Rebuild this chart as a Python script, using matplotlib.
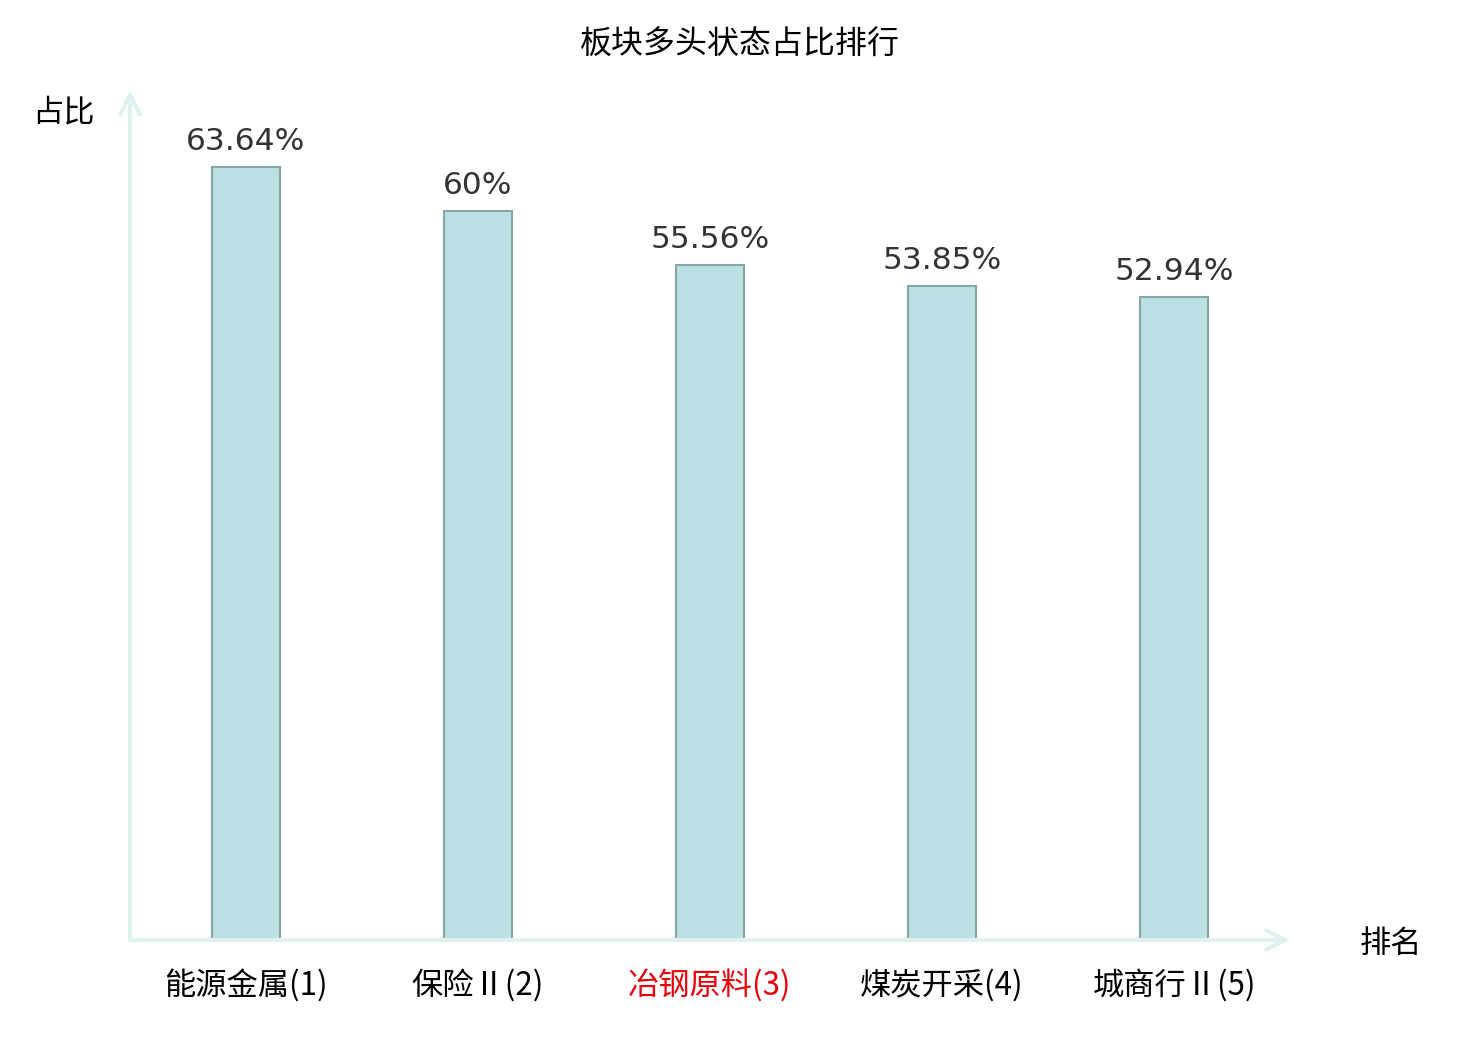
import matplotlib
matplotlib.use("Agg")
import matplotlib.pyplot as plt

plt.rcParams['font.family'] = ['Noto Sans CJK SC', 'DejaVu Sans']

# data
sectors = ['能源金属(1)', '保险Ⅱ(2)', '冶钢原料(3)', '煤炭开采(4)', '城商行Ⅱ(5)']
ratios = [63.64, 60, 55.56, 53.85, 52.94]
value_labels = ['63.64%', '60%', '55.56%', '53.85%', '52.94%']
highlight = '冶钢原料(3)'

W, H = 1480, 1040
fig = plt.figure(figsize=(W / 100, H / 100), dpi=100)
ax = fig.add_axes([130 / W, (H - 940) / H, 1160 / W, 850 / H])

x = list(range(len(sectors)))
bars = ax.bar(x, ratios, width=0.295, color='#bbe0e3', edgecolor='#8aa5a6', linewidth=1.5)

for b, lab in zip(bars, value_labels):
    ax.annotate(lab, (b.get_x() + b.get_width() / 2, b.get_height()),
                xytext=(0, 8), textcoords='offset points', ha='center', va='bottom',
                fontsize=22.5, color='#333333', family='DejaVu Sans')

ax.set_xlim(-0.5, 4.5)
ax.set_ylim(0, 70)
ax.set_yticks([])
ax.set_xticks(x)
ax.set_xticklabels(sectors, fontsize=22.5)
ax.tick_params(axis='x', length=0, pad=21)
for t in ax.get_xticklabels():
    if t.get_text() == highlight:
        t.set_color('#e8000b')
for s in ax.spines.values():
    s.set_visible(False)

# axis lines with open arrow heads
axis_col = '#dff2f0'
ax.annotate('', xy=(0, 1), xytext=(0, 0), xycoords='axes fraction',
            arrowprops=dict(arrowstyle='->', color=axis_col, lw=3, mutation_scale=35,
                            shrinkA=0, shrinkB=0))
ax.annotate('', xy=(1, 0), xytext=(0, 0), xycoords='axes fraction',
            arrowprops=dict(arrowstyle='->', color=axis_col, lw=3, mutation_scale=35,
                            shrinkA=0, shrinkB=0))

fig.text(740 / W, 1 - 45 / H, '板块多头状态占比排行', ha='center', va='center', fontsize=23)
fig.text(63 / W, 1 - 112 / H, '占比', ha='center', va='center', fontsize=22.5)
fig.text(1391 / W, 1 - 944 / H, '排名', ha='center', va='center', fontsize=22.5)

fig.savefig('out.png', dpi=100)
